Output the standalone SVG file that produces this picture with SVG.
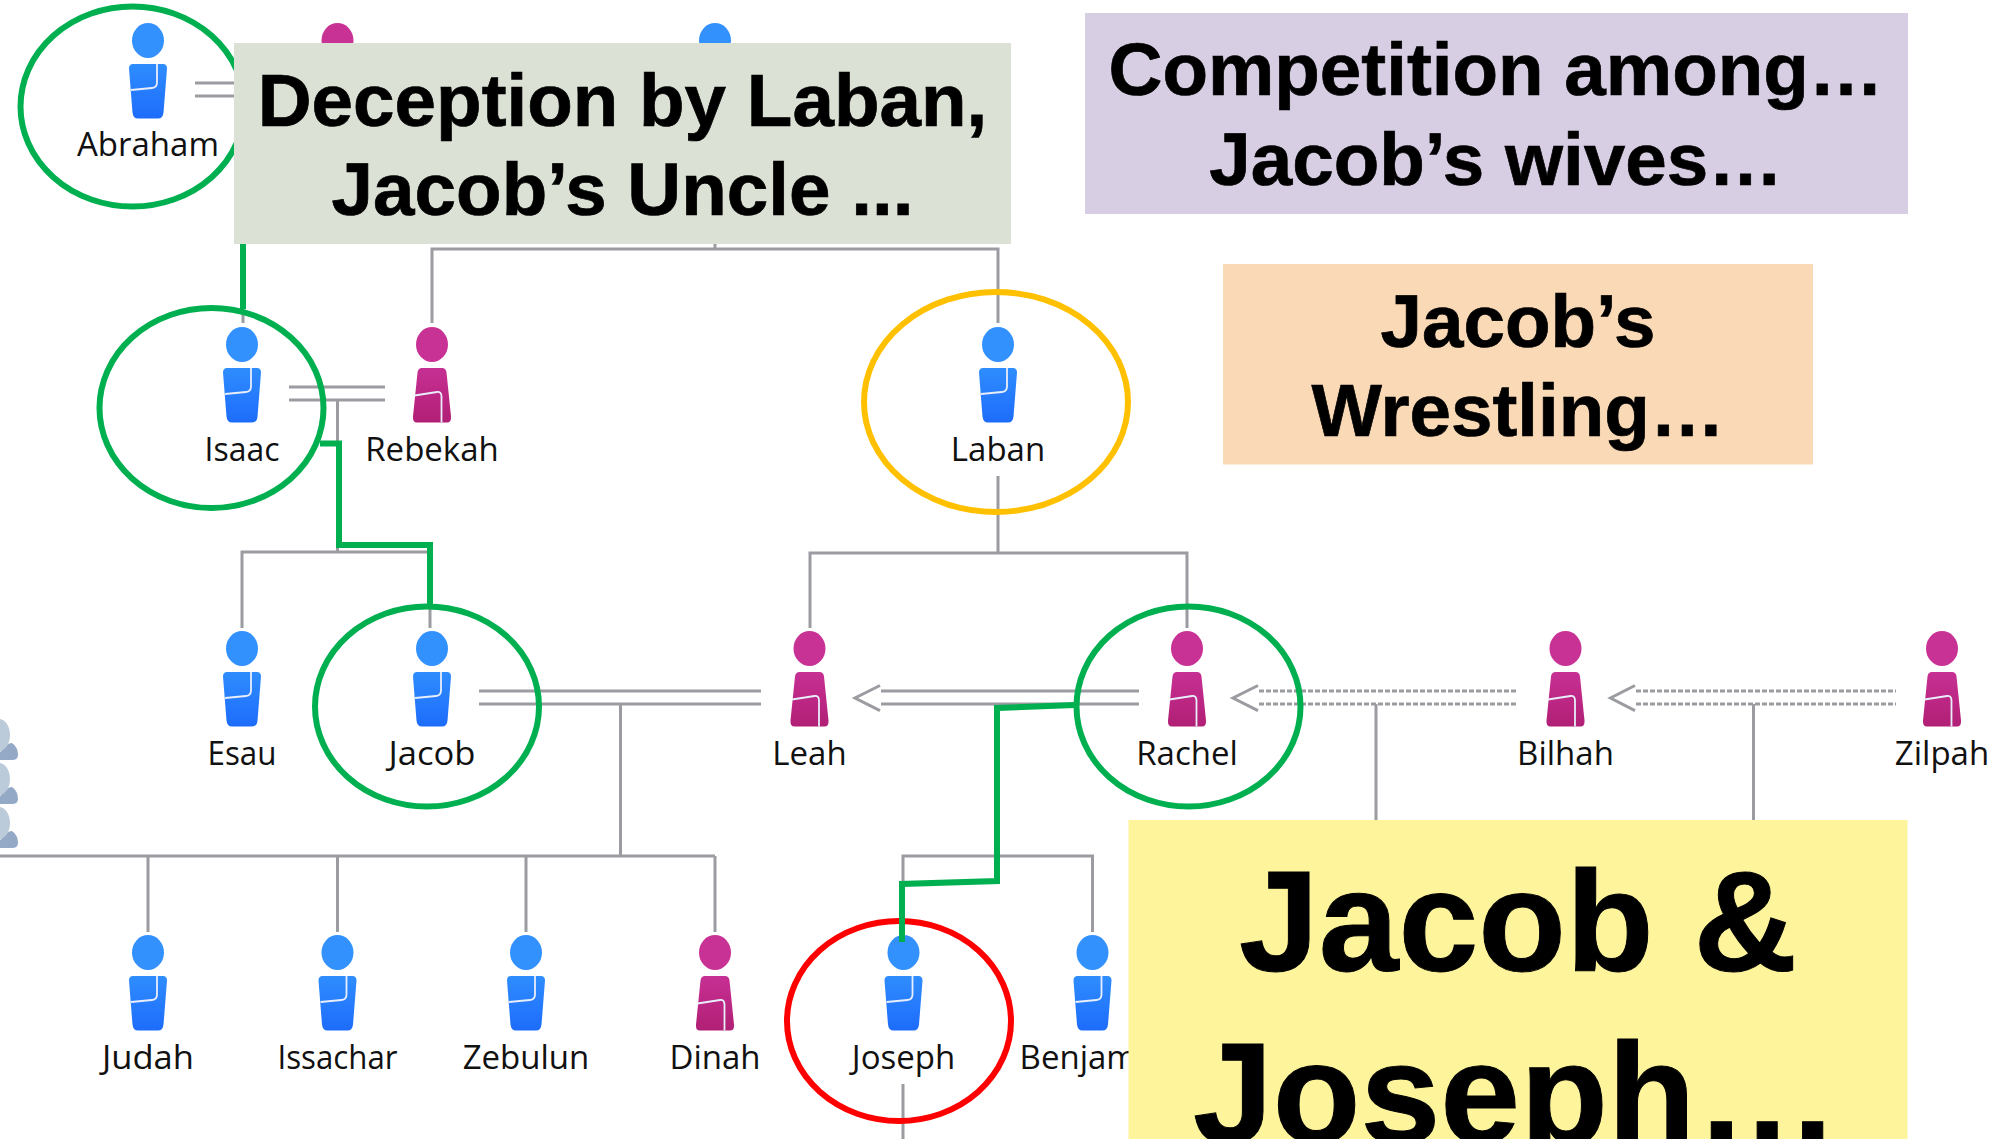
<svg xmlns="http://www.w3.org/2000/svg" xmlns:xlink="http://www.w3.org/1999/xlink" width="1997" height="1139" viewBox="0 0 1997 1139">
<style>
.c{fill:none;stroke:#9b9ca1;stroke-width:3}
.d{fill:none;stroke:#9b9ca1;stroke-width:3;stroke-dasharray:5 2}
.g{fill:none;stroke:#00b050;stroke-width:6}
.r{fill:none;stroke-width:6}
.n{font-family:"Open Sans","Noto Sans",sans-serif;font-size:33px;fill:#111;text-anchor:middle}
.t{font-family:"Liberation Sans",Arial,sans-serif;font-weight:700;font-size:74.6px;fill:#000;stroke:#000;stroke-width:.7;text-anchor:middle}
.b{font-size:143.5px;stroke-width:1}
.fold{fill:none;stroke:#e8eefb;stroke-width:1.8}
</style>
<defs>
<linearGradient id="mb" x1="0" y1="0" x2="0" y2="1"><stop offset="0" stop-color="#2f8dfe"/><stop offset="1" stop-color="#1d6cfb"/></linearGradient>
<linearGradient id="fb" x1="0" y1="0" x2="0" y2="1"><stop offset="0" stop-color="#c73094"/><stop offset="1" stop-color="#b11f75"/></linearGradient>
<g id="male">
<ellipse cx="0" cy="0" rx="16" ry="17.5" fill="#3391fe"/>
<path d="M-15,23.5H15Q19,23.5 19,28L15.5,72Q15,78 10,78H-10Q-15,78-15.5,72L-19,28Q-19,23.5-15,23.5Z" fill="url(#mb)"/>
<path class="fold" d="M9,23.5V42Q9,47 4,47.5L-17,49.5"/>
</g>
<g id="female">
<ellipse cx="0" cy="0" rx="16" ry="17.5" fill="#c93295"/>
<path d="M-10,23.5H10Q14,23.5 14.5,28L19,72Q19.5,78 15,78H-15Q-19.5,78-19,72L-14.5,28Q-14,23.5-10,23.5Z" fill="url(#fb)"/>
<path class="fold" d="M-17.5,51L5,47.5Q9.5,47 9.5,52V78"/>
</g>
<g id="other">
<path d="M-2,20Q6,8 12,8Q18,12 18,20Q18,25 12,25H-2Z" fill="#94a9c6"/>
<ellipse cx="-1" cy="0" rx="11" ry="16" fill="#bccbd9"/>
</g>
</defs>
<rect width="1997" height="1139" fill="#fff"/>
<g id="connectors">
<path class="c" d="M195,83H300M195,96H300M715,244V249M432,323V249H998V323"/>
<path class="c" d="M243,309V323"/>
<path class="c" d="M289,387H385M289,400H385M337.5,400V552M242,628V552H430V628"/>
<path class="c" d="M998,476V553M810,628V553H1187V628"/>
<path class="c" d="M479,691H761M479,704H761M620.5,704V856M0,856H715M148,856V932M337.5,856V932M526,856V932M715,856V932"/>
<path class="c" d="M881,691H1139M881,704H1139M997,704V856M903,932V856H1092.5V932M903,1084V1139"/>
<path class="c" d="M880,685.5L855,698L880,710.6M1258,685.5L1233,698L1258,710.6M1635,685.5L1610.5,698L1635,710.6"/>
<path class="d" d="M1259,691H1518M1259,704H1518M1636,691H1896M1636,704H1896"/>
<path class="c" d="M1376,704V822M1753.5,704V822"/>
</g>
<g id="others"><use href="#other" x="0" y="735"/><use href="#other" x="0" y="779"/><use href="#other" x="0" y="823"/></g>
<g id="abraham"><use xlink:href="#male" href="#male" x="148" y="40.5"/><text class="n" x="148" y="156">Abraham</text><ellipse class="g" cx="132.5" cy="106.5" rx="112" ry="100"/></g>
<g id="sarah"><use href="#female" x="337.5" y="40.5"/></g>
<g id="nahor"><use href="#male" x="715" y="40.5"/></g>
<g id="isaac"><use href="#male" x="242" y="344.5"/><text class="n" x="242" y="461" textLength="75" lengthAdjust="spacingAndGlyphs">Isaac</text><ellipse class="g" cx="211.5" cy="408" rx="112" ry="100"/></g>
<g id="rebekah"><use href="#female" x="432" y="344.5"/><text class="n" x="432" y="461">Rebekah</text></g>
<g id="laban"><use href="#male" x="998" y="344.5"/><text class="n" x="998" y="461">Laban</text><ellipse class="r" stroke="#ffc000" cx="996" cy="402" rx="132" ry="110"/></g>
<g id="esau"><use href="#male" x="242" y="648.5"/><text class="n" x="242" y="765" textLength="69" lengthAdjust="spacingAndGlyphs">Esau</text></g>
<g id="jacob"><use href="#male" x="432" y="648.5"/><text class="n" x="432" y="765" textLength="87" lengthAdjust="spacingAndGlyphs">Jacob</text><ellipse class="g" cx="427" cy="706.5" rx="112" ry="100"/></g>
<g id="leah"><use href="#female" x="809.5" y="648.5"/><text class="n" x="809.5" y="765">Leah</text></g>
<g id="rachel"><use href="#female" x="1187" y="648.5"/><text class="n" x="1187" y="765">Rachel</text><ellipse class="g" cx="1188.5" cy="706.5" rx="112" ry="100"/></g>
<g id="bilhah"><use href="#female" x="1565.5" y="648.5"/><text class="n" x="1565.5" y="765">Bilhah</text></g>
<g id="zilpah"><use href="#female" x="1942" y="648.5"/><text class="n" x="1942" y="765">Zilpah</text></g>
<g id="judah"><use href="#male" x="148" y="952.5"/><text class="n" x="148" y="1069" textLength="92" lengthAdjust="spacingAndGlyphs">Judah</text></g>
<g id="issachar"><use href="#male" x="337.5" y="952.5"/><text class="n" x="337.5" y="1069" textLength="120" lengthAdjust="spacingAndGlyphs">Issachar</text></g>
<g id="zebulun"><use href="#male" x="526" y="952.5"/><text class="n" x="526" y="1069">Zebulun</text></g>
<g id="dinah"><use href="#female" x="715" y="952.5"/><text class="n" x="715" y="1069">Dinah</text></g>
<g id="joseph"><use href="#male" x="903.5" y="952.5"/><text class="n" x="903.5" y="1069">Joseph</text><ellipse class="r" stroke="#ff0000" cx="899" cy="1021" rx="112" ry="100"/></g>
<g id="benjamin"><use href="#male" x="1092.5" y="952.5"/><text class="n" x="1092.5" y="1069">Benjamin</text></g>
<g id="highlight-connectors">
<path class="g" d="M243,309V240M320,443.5H339V545H430V604"/>
<path class="g" d="M1075,705L997,708V881L902,884V942"/>
</g>
<g id="box-deception"><rect x="234" y="43" width="777" height="201" fill="#dbe1d5"/>
<text class="t" x="622.5" y="126">Deception by Laban,</text><text class="t" x="622.5" y="215">Jacob’s Uncle ...</text></g>
<g id="box-competition"><rect x="1085" y="13" width="823" height="201" fill="#d8cee4"/>
<text class="t" x="1496" y="95">Competition among…</text><text class="t" x="1496" y="185">Jacob’s wives…</text></g>
<g id="box-wrestling"><rect x="1223" y="264" width="590" height="200.5" fill="#fadab6"/>
<text class="t" x="1518" y="347">Jacob’s</text><text class="t" x="1518" y="436">Wrestling…</text></g>
<g id="box-jacob-joseph"><rect x="1128.5" y="820" width="779" height="319" fill="#fdf49c"/>
<text class="t b" x="1518" y="971">Jacob &amp;</text><text class="t b" x="1516" y="1143">Joseph…</text></g>
</svg>
